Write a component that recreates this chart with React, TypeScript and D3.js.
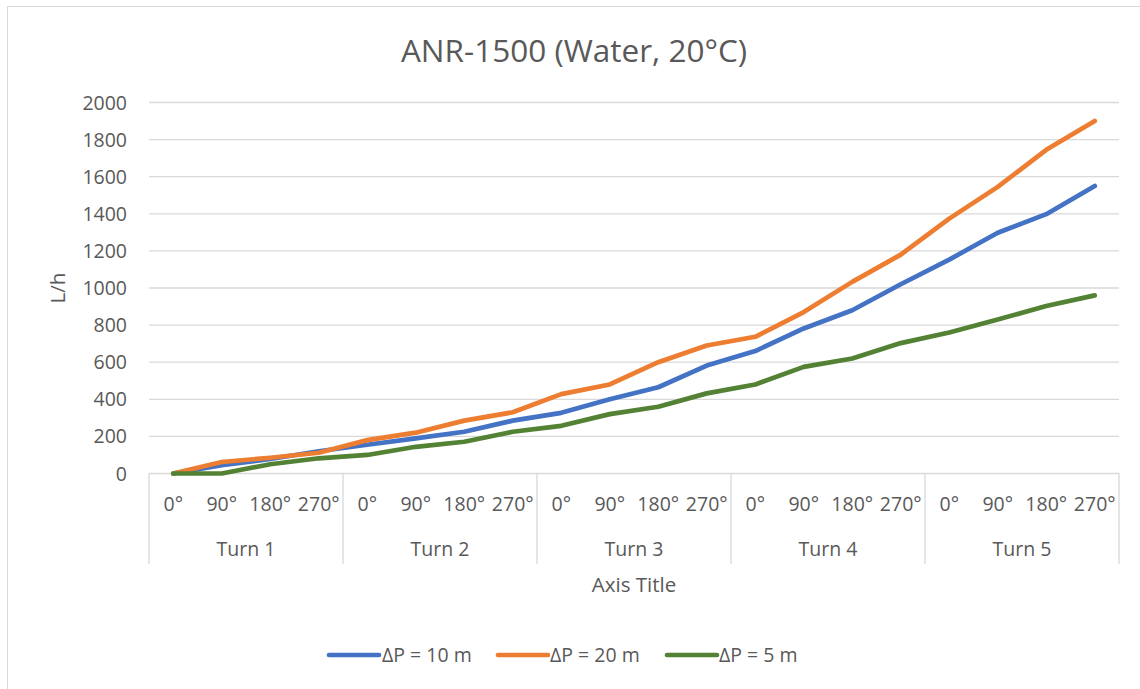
import React from "react";
import * as d3 from "d3";

const title = "ANR-1500 (Water, 20°C)";
const turns = ["Turn 1", "Turn 2", "Turn 3", "Turn 4", "Turn 5"];
const angles = ["0°", "90°", "180°", "270°"];
const yTicks = [0, 200, 400, 600, 800, 1000, 1200, 1400, 1600, 1800, 2000];

const seriesNames = ["ΔP = 10 m", "ΔP = 20 m", "ΔP = 5 m"];
const seriesColors = ["#4472C4", "#ED7D31", "#548235"];
const dp10 = [0, 45, 78, 120, 155, 189, 225, 285, 327, 400, 465, 582, 660, 782, 880, 1020, 1153, 1298, 1398, 1550];
const dp20 = [0, 62, 85, 112, 180, 220, 285, 330, 428, 480, 600, 690, 737, 870, 1033, 1180, 1374, 1545, 1745, 1900];
const dp5 = [0, 0, 50, 82, 100, 144, 171, 225, 257, 320, 360, 432, 480, 575, 620, 703, 760, 830, 903, 960];
const seriesValues = [dp10, dp20, dp5];

const FONT = "'Open Sans', 'Noto Sans', sans-serif";
const TEXT = "#595959";
const GRID = "#D9D9D9";

export default function App() {
  const cats = turns.flatMap((t) => angles.map((a) => `${t}|${a}`));
  const x = d3.scaleBand<string>().domain(cats).range([149, 1119]);
  const xc = (i: number) => (x(cats[i]) as number) + x.bandwidth() / 2;
  const y = d3.scaleLinear().domain([0, 2000]).range([473.5, 102.5]);
  const line = d3
    .line<number>()
    .x((_, i) => xc(i))
    .y((d) => y(d));
  const groupW = x.bandwidth() * angles.length;

  const legendItems = [
    { lx: 329, tx: 382 },
    { lx: 498, tx: 550 },
    { lx: 667, tx: 719 },
  ];

  return (
    <svg
      width={1140}
      height={689}
      style={{ position: "absolute", left: 0, top: 0, background: "#fff" }}
      fontFamily={FONT}
    >
      <rect x={0} y={0} width={1140} height={689} fill="#fff" />
      <rect x={7.5} y={6.5} width={1150} height={700} fill="none" stroke={GRID} strokeWidth={1} />
      <text x={574} y={62} textAnchor="middle" fontSize={31.5} fill={TEXT}>
        {title}
      </text>
      {yTicks.map((t) => (
        <g key={t}>
          <line x1={149} x2={1119} y1={y(t)} y2={y(t)} stroke={GRID} strokeWidth={1.3} />
          <text x={127} y={y(t)} dy="0.36em" textAnchor="end" fontSize={19.5} fill={TEXT}>
            {t}
          </text>
        </g>
      ))}
      <text
        transform={`translate(65,288) rotate(-90)`}
        textAnchor="middle"
        fontSize={20.5}
        fill={TEXT}
      >
        L/h
      </text>
      {turns.map((t, k) => (
        <line
          key={`sep${k}`}
          x1={149 + k * groupW}
          x2={149 + k * groupW}
          y1={y(0)}
          y2={564}
          stroke={GRID}
          strokeWidth={1.3}
        />
      ))}
      <line x1={1119} x2={1119} y1={y(0)} y2={564} stroke={GRID} strokeWidth={1.3} />
      {cats.map((c, i) => (
        <text key={c} x={xc(i)} y={504} dy="0.36em" textAnchor="middle" fontSize={19.5} fill={TEXT}>
          {angles[i % 4]}
        </text>
      ))}
      {turns.map((t, k) => (
        <text
          key={t}
          x={149 + k * groupW + groupW / 2}
          y={549}
          dy="0.36em"
          textAnchor="middle"
          fontSize={19.5}
          fill={TEXT}
        >
          {t}
        </text>
      ))}
      <text x={634} y={585} dy="0.36em" textAnchor="middle" fontSize={20.5} fill={TEXT}>
        Axis Title
      </text>
      {seriesValues.map((vals, s) => (
        <path
          key={s}
          d={line(vals) as string}
          fill="none"
          stroke={seriesColors[s]}
          strokeWidth={4.7}
          strokeLinejoin="round"
          strokeLinecap="round"
        />
      ))}
      {seriesNames.map((n, s) => (
        <g key={n}>
          <line
            x1={legendItems[s].lx}
            x2={legendItems[s].lx + 50}
            y1={655}
            y2={655}
            stroke={seriesColors[s]}
            strokeWidth={4.7}
            strokeLinecap="round"
          />
          <text x={legendItems[s].tx} y={655} dy="0.36em" fontSize={19.5} fill={TEXT}>
            {n}
          </text>
        </g>
      ))}
    </svg>
  );
}
